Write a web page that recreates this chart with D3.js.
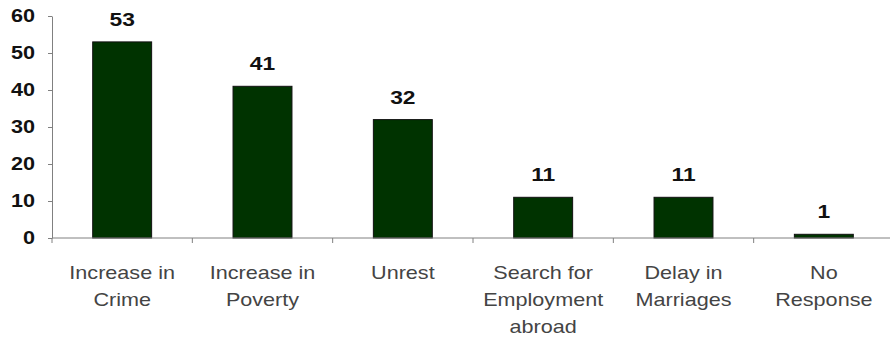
<!DOCTYPE html>
<html>
<head>
<meta charset="UTF-8">
<title>Chart</title>
<script src="https://d3js.org/d3.v7.min.js"></script>
<style>
    body { margin: 0; background: #fff; }
    .axis path, .axis line { stroke: #808080; }
    .ylab { font: bold 18px "Liberation Sans", Arial, sans-serif; fill: #111; }
    .cat { font: 18px "Liberation Sans", Arial, sans-serif; fill: #444; }
    .val { font: bold 19px "Liberation Sans", Arial, sans-serif; fill: #111; }
</style>
</head>
<body>
<div id="chart"></div>
<script>
var categories = [
    ["Increase in", "Crime"],
    ["Increase in", "Poverty"],
    ["Unrest"],
    ["Search for", "Employment", "abroad"],
    ["Delay in", "Marriages"],
    ["No", "Response"]
];
var values = [53, 41, 32, 11, 11, 1];
var yTicks = [0, 10, 20, 30, 40, 50, 60];

var width = 890, height = 340;
var margin = {left: 52, top: 16, right: -4, bottom: 102};
var plotW = width - margin.left - margin.right;
var plotH = height - margin.top - margin.bottom;
var stretch = 1.2; // the reference text is drawn wide

var svg = d3.select("#chart").append("svg")
    .attr("width", width)
    .attr("height", height);

var g = svg.append("g")
    .attr("transform", "translate(" + margin.left + "," + margin.top + ")");

var idx = d3.range(categories.length);
var x = d3.scaleBand().domain(idx).range([0, plotW]).paddingInner(0.58).paddingOuter(0.29);
var y = d3.scaleLinear().domain([0, 60]).range([plotH, 0]);

// bars
g.selectAll(".bar")
    .data(values)
    .enter().append("rect")
    .attr("class", "bar")
    .attr("x", function(d, i) { return x(i); })
    .attr("y", function(d) { return y(d); })
    .attr("width", x.bandwidth())
    .attr("height", function(d) { return plotH - y(d); })
    .attr("fill", "#003300")
    .attr("stroke", "#111")
    .attr("stroke-width", 1);

// value labels
g.selectAll(".val")
    .data(values)
    .enter().append("text")
    .attr("class", "val")
    .attr("text-anchor", "middle")
    .attr("transform", function(d, i) {
        return "translate(" + (x(i) + x.bandwidth() / 2) + "," + (y(d) - 16) + ") scale(" + stretch + ",1)";
    })
    .text(function(d) { return d; });

// y axis (line and ticks from d3, labels drawn wide)
var yAxis = g.append("g")
    .attr("class", "axis")
    .call(d3.axisLeft(y).tickValues(yTicks).tickSize(4).tickSizeOuter(0));
yAxis.selectAll("text").remove();
g.selectAll(".ylab")
    .data(yTicks)
    .enter().append("text")
    .attr("class", "ylab")
    .attr("text-anchor", "end")
    .attr("dy", "0.36em")
    .attr("transform", function(d) { return "translate(-17," + y(d) + ") scale(" + stretch + ",1)"; })
    .text(function(d) { return d; });

// x axis with ticks between categories
var step = plotW / categories.length;
var xAxis = g.append("g")
    .attr("class", "axis")
    .attr("transform", "translate(0," + plotH + ")");
xAxis.append("line")
    .attr("x1", 0).attr("x2", plotW)
    .attr("stroke", "#808080");
xAxis.selectAll(".tk")
    .data(d3.range(categories.length + 1))
    .enter().append("line")
    .attr("x1", function(d) { return d * step; })
    .attr("x2", function(d) { return d * step; })
    .attr("y1", 0).attr("y2", 5)
    .attr("stroke", "#808080");

var labels = xAxis.selectAll(".cat")
    .data(categories)
    .enter().append("text")
    .attr("class", "cat")
    .attr("text-anchor", "middle")
    .attr("transform", function(d, i) {
        return "translate(" + (x(i) + x.bandwidth() / 2) + ",41) scale(" + stretch + ",1)";
    });
labels.selectAll("tspan")
    .data(function(d) { return d; })
    .enter().append("tspan")
    .attr("x", 0)
    .attr("y", function(d, i) { return i * 27; })
    .text(function(d) { return d; });
</script>
</body>
</html>
